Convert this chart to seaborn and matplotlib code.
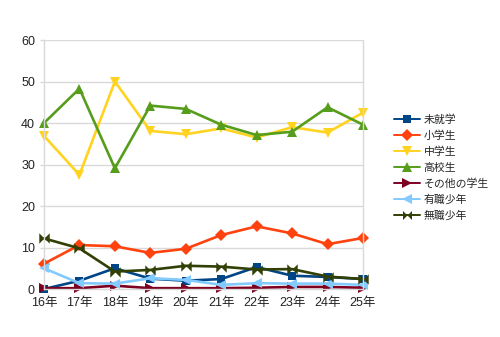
import matplotlib
matplotlib.use("Agg")
import matplotlib.pyplot as plt
import seaborn as sns
import pandas as pd
from matplotlib.path import Path

years = ["16年", "17年", "18年", "19年", "20年", "21年", "22年", "23年", "24年", "25年"]
series_names = ["未就学", "小学生", "中学生", "高校生", "その他の学生", "有職少年", "無職少年"]

preschool = [0.0, 2.0, 5.0, 2.5, 2.0, 2.4, 5.3, 3.2, 2.9, 2.4]
elementary = [6.1, 10.6, 10.3, 8.7, 9.7, 13.0, 15.1, 13.4, 10.8, 12.3]
junior_high = [36.9, 27.5, 50.0, 38.1, 37.3, 38.7, 36.5, 39.0, 37.7, 42.5]
high_school = [40.0, 48.3, 29.1, 44.2, 43.4, 39.6, 37.1, 37.9, 43.8, 39.6]
other_students = [0.2, 0.2, 0.8, 0.2, 0.2, 0.2, 0.3, 0.5, 0.5, 0.3]
employed = [5.0, 1.4, 1.3, 2.6, 2.2, 1.0, 1.4, 1.3, 1.3, 1.0]
unemployed = [12.2, 9.8, 4.2, 4.6, 5.6, 5.4, 4.7, 4.8, 3.0, 2.4]

colors = ["#004586", "#ff420e", "#ffd320", "#579d1c", "#7e0021", "#83caff", "#314004"]

# bow-tie marker: two triangles meeting at the centre
bowtie = Path([(-1, -1), (1, 1), (1, -1), (-1, 1), (-1, -1)],
              [Path.MOVETO, Path.LINETO, Path.LINETO, Path.LINETO, Path.CLOSEPOLY])
markers = ["s", "D", "v", "^", ">", "<", bowtie]

values = [preschool, elementary, junior_high, high_school, other_students, employed, unemployed]
rows = []
for name, vals in zip(series_names, values):
    for i, v in enumerate(vals):
        rows.append({"年": i, "値": v, "区分": name})
df = pd.DataFrame(rows)

sns.set_theme(style="white")
plt.rcParams["font.family"] = ["Liberation Sans", "Noto Sans CJK JP", "DejaVu Sans"]

fig = plt.figure(figsize=(5.0, 3.37), dpi=100)
ax = fig.add_axes([0.088, 0.1424, 0.638, 0.7388])

sns.lineplot(data=df, x="年", y="値", hue="区分", style="区分",
             hue_order=series_names, style_order=series_names,
             palette=colors, markers=dict(zip(series_names, markers)),
             dashes=False, linewidth=1.9, markersize=7.5, markeredgewidth=0,
             ax=ax, legend=True)

ax.set_xlim(0, len(years) - 1)
ax.set_ylim(0, 60)
ax.set_yticks(range(0, 61, 10))
ax.set_xticks(range(len(years)))
ax.set_xticklabels(years)
ax.set_xlabel("")
ax.set_ylabel("")
ax.grid(axis="y", color="#d9d9d9", linewidth=1)
ax.set_axisbelow(True)
for side in ["left", "right", "bottom"]:
    ax.spines[side].set_visible(True)
    ax.spines[side].set_color("#d9d9d9")
    ax.spines[side].set_linewidth(1)
ax.spines["top"].set_visible(False)
ax.tick_params(axis="y", labelsize=9, colors="#d9d9d9", labelcolor="#222222",
               length=3, width=1, direction="out", left=True)
ax.tick_params(axis="x", labelsize=9, labelcolor="#222222", length=0, pad=6)
for line in ax.get_lines():
    line.set_clip_on(False)
    if line.get_marker() in ("s", "D"):
        line.set_markersize(6)

handles, labels = ax.get_legend_handles_labels()
leg = ax.legend(handles, labels, loc="upper left", bbox_to_anchor=(1.085, 0.72),
                frameon=False, fontsize=7.8, handlelength=2.4, handletextpad=0.3,
                labelspacing=0.52, borderaxespad=0)
for h in leg.legend_handles:
    h.set_linewidth(1.4)
    h.set_markersize(6 if h.get_marker() in ("s", "D") else 6.5)

fig.savefig("out.png", dpi=100)
